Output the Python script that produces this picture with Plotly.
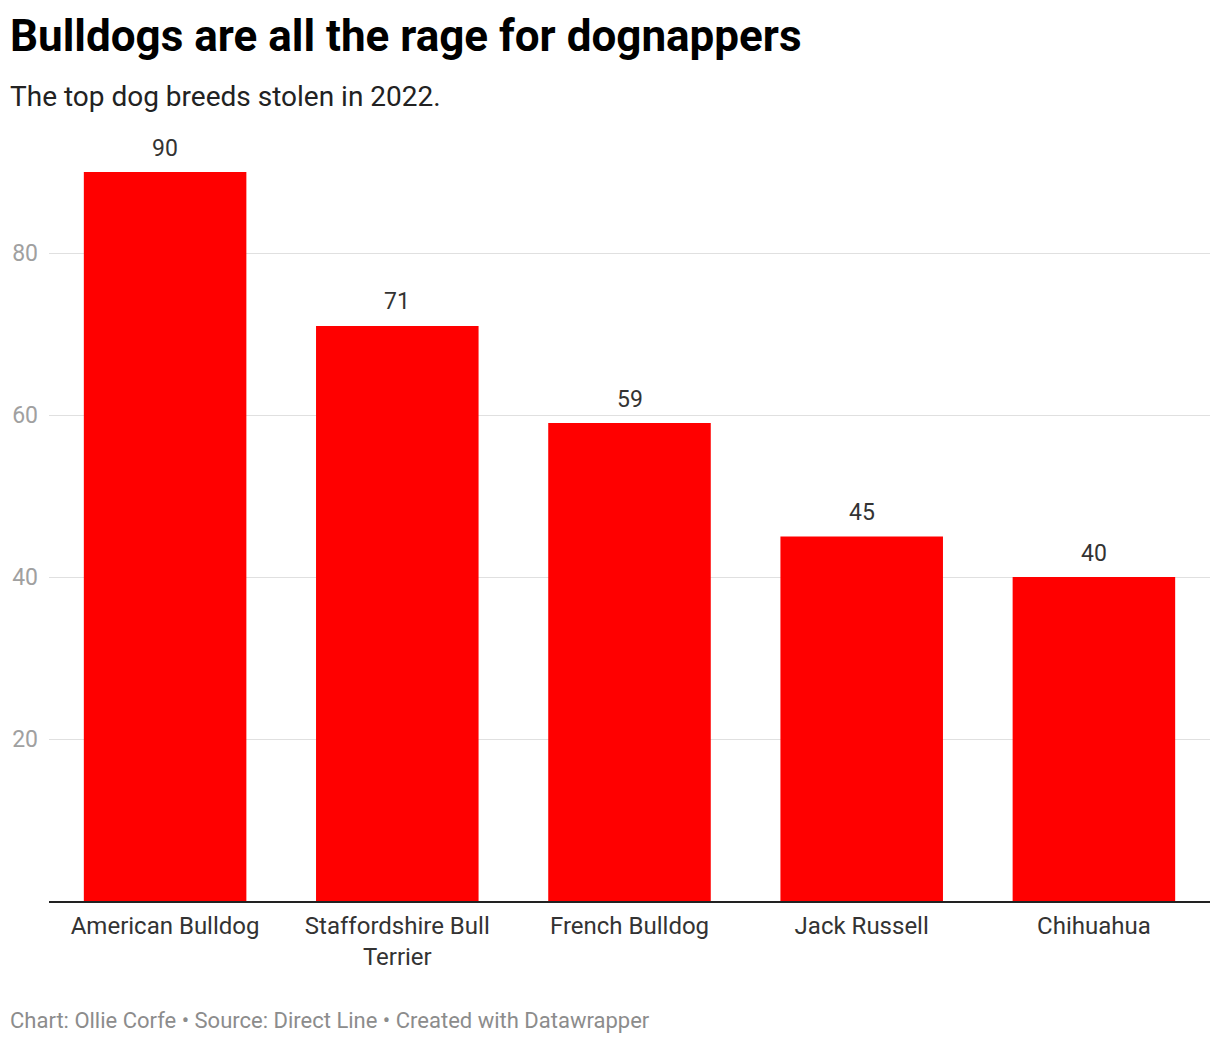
import plotly.graph_objects as go

breeds = ["American Bulldog", "Staffordshire Bull<br>Terrier", "French Bulldog",
          "Jack Russell", "Chihuahua"]
thefts = [90, 71, 59, 45, 40]
y_ticks = [20, 40, 60, 80]

# page has an 8px body margin, so positions below are screen px minus 8
W, H = 1220, 1054
OFF = 8
ml, mr, mt, mb = 41, 18, 164, 161
pw, ph = W - ml - mr, H - mt - mb


def px_x(x):
    return (x - OFF - ml) / pw


def px_y(y):
    return (H - mb - (y - OFF)) / ph


fig = go.Figure(go.Bar(
    x=breeds,
    y=thefts,
    marker=dict(color="#ff0000", line=dict(width=0)),
    hoverinfo="skip",
))

# value labels above the bars
labels = [dict(x=b, y=v, text=str(v), xref="x", yref="y", showarrow=False,
               yanchor="middle", yshift=24,
               font=dict(size=23, color="#333333"))
          for b, v in zip(breeds, thefts)]

fig.update_layout(
    width=W,
    height=H,
    margin=dict(l=ml, r=mr, t=mt, b=mb),
    paper_bgcolor="white",
    plot_bgcolor="white",
    font=dict(family="Roboto", color="#333333"),
    bargap=0.3,
    showlegend=False,
    title=dict(
        text="<b>Bulldogs are all the rage for dognappers</b>",
        font=dict(size=44, color="#000000", family="Roboto"),
        xref="container", yref="container",
        x=(10 - OFF) / W, xanchor="left",
        y=1 - (36 - OFF) / H, yanchor="middle",
        pad=dict(l=0, t=0, b=0, r=0),
    ),
    xaxis=dict(
        showgrid=False,
        showline=True,
        linecolor="#222222",
        linewidth=2,
        ticks="",
        tickfont=dict(size=24, color="#333333"),
        ticklabelstandoff=2,
        automargin=False,
    ),
    yaxis=dict(
        range=[0, 90],
        tickvals=y_ticks,
        showgrid=True,
        gridcolor="#e0e0e0",
        gridwidth=1,
        zeroline=False,
        showline=False,
        ticks="",
        tickfont=dict(size=23, color="#a0a0a0"),
        ticklabelstandoff=10,
        automargin=False,
    ),
    annotations=labels + [
        dict(text="The top dog breeds stolen in 2022.", xref="paper", yref="paper",
             x=px_x(8), y=px_y(97), xanchor="left", yanchor="middle",
             showarrow=False, font=dict(size=28, color="#222222")),
        dict(text="Chart: Ollie Corfe • Source: Direct Line • Created with Datawrapper",
             xref="paper", yref="paper", x=px_x(8), y=px_y(1021),
             xanchor="left", yanchor="middle", showarrow=False,
             font=dict(size=22, color="#8c8c8c")),
    ],
)

fig.write_html("out.html")
